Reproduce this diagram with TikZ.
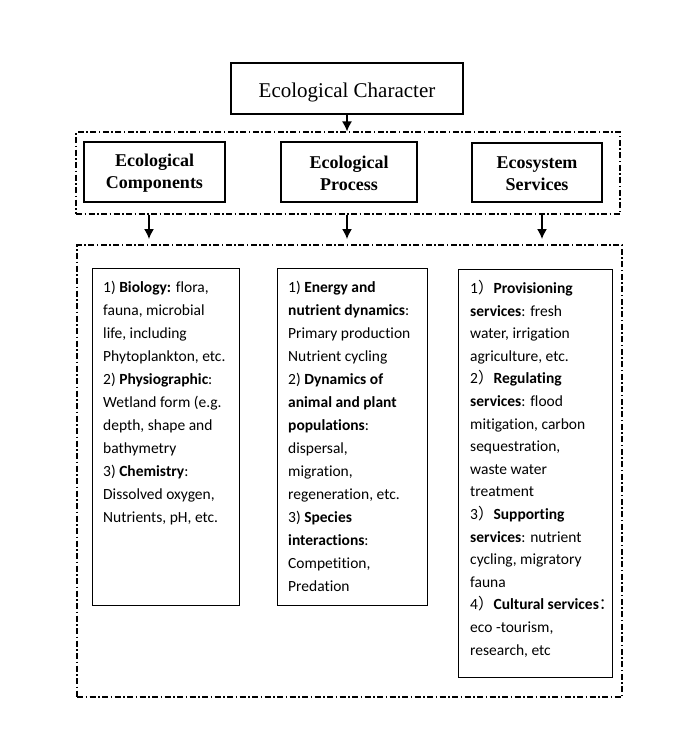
\documentclass[tikz,border=0pt]{standalone}
\usepackage{fontspec}
\setmainfont{Liberation Serif}
\newfontfamily\calfont[Ligatures={NoCommon}]{Carlito}
\newfontfamily\cjk{Noto Sans CJK SC}
\usetikzlibrary{arrows.meta}
\begin{document}
\begin{tikzpicture}[x=1pt,y=-1pt,
  solidbox/.style={draw,line width=1.4pt,inner sep=0pt},
  dashbox/.style={draw,line width=1.2pt,inner sep=0pt,dash pattern=on 6pt off 2.5pt on 1.5pt off 2.5pt},
  headtext/.style={align=center,inner sep=0pt,font=\bfseries\fontsize{18}{22}\selectfont},
  bodytext/.style={anchor=north west,align=left,inner sep=0pt,font=\calfont\fontsize{15.5}{23}\selectfont},
  arr/.style={line width=1.4pt,-{Latex[length=10pt,width=10pt]}}]
\useasboundingbox (0,0) rectangle (685,756);
% top
\node[solidbox,minimum width=232pt,minimum height=51pt] (ec) at (347,88.5) {};
\node[inner sep=0pt,font=\fontsize{21}{25}\selectfont] (ect) at (347,92) {Ecological Character};
% first dashed group
\node[dashbox,minimum width=544pt,minimum height=82pt] (g1) at (348,173) {};
\node[solidbox,minimum width=141pt,minimum height=60pt] (comp) at (154.5,172) {};
\node[solidbox,minimum width=136pt,minimum height=60pt] (proc) at (349,172) {};
\node[solidbox,minimum width=130pt,minimum height=59pt] (serv) at (537,172.5) {};
\node[headtext] (compt) at ([yshift=-1.5pt]comp.center) {Ecological\\Components};
\node[headtext] (proct) at ([yshift=-1.5pt]proc.center) {Ecological\\Process};
\node[headtext] (servt) at ([yshift=-1.5pt]serv.center) {Ecosystem\\Services};
% second dashed group
\node[dashbox,minimum width=545pt,minimum height=452pt] (g2) at (349.5,471) {};
\node[solidbox,minimum width=147pt,minimum height=337pt,anchor=north west] (b1) at (92,268) {};
\node[solidbox,minimum width=150pt,minimum height=337pt,anchor=north west] (b2) at (277,268) {};
\node[solidbox,minimum width=154pt,minimum height=408pt,anchor=north west] (b3) at (458,269) {};
% texts
\node[bodytext] (t1) at ([xshift=11pt,yshift=-12.5pt]b1.north west) {1) \textbf{Biology:} flora,\\fauna, microbial\\life, including\\Phytoplankton, etc.\\2) \textbf{Physiographic}:\\Wetland form (e.g.\\depth, shape and\\bathymetry\\3) \textbf{Chemistry}:\\Dissolved oxygen,\\Nutrients, pH, etc.};
\node[bodytext] (t2) at ([xshift=11pt,yshift=-12.5pt]b2.north west) {1) \textbf{Energy and}\\\textbf{nutrient dynamics}:\\Primary production\\Nutrient cycling\\2) \textbf{Dynamics of}\\\textbf{animal and plant}\\\textbf{populations}:\\dispersal,\\migration,\\regeneration, etc.\\3) \textbf{Species}\\\textbf{interactions}:\\Competition,\\Predation};
\node[bodytext,font=\calfont\fontsize{15.5}{22.6}\selectfont] (t3) at ([xshift=12pt,yshift=-11pt]b3.north west) {1{\cjk ）}\textbf{Provisioning}\\\textbf{services}: fresh\\water, irrigation\\agriculture, etc.\\2{\cjk ）}\textbf{Regulating}\\\textbf{services}: flood\\mitigation, carbon\\sequestration,\\waste water\\treatment\\3{\cjk ）}\textbf{Supporting}\\\textbf{services}: nutrient\\cycling, migratory\\fauna\\4{\cjk ）}\textbf{Cultural services}{\cjk ：}\\eco -tourism,\\research, etc};
% arrows
\draw[arr] (ec.south) -- (ec.south |- g1.north);
\coordinate (a1) at (149,239);
\coordinate (a2) at (347,239);
\coordinate (a3) at (542,239);
\draw[arr] (g1.south -| a1) -- (a1);
\draw[arr] (g1.south -| a2) -- (a2);
\draw[arr] (g1.south -| a3) -- (a3);
\end{tikzpicture}
\end{document}
